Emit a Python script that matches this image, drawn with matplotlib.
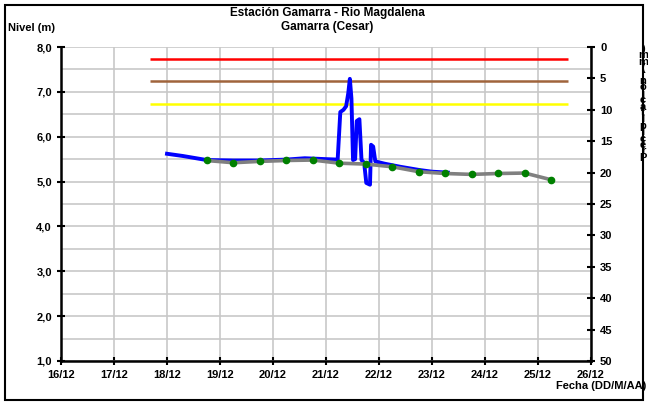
import numpy as np
import matplotlib
matplotlib.use('Agg')
from matplotlib import pyplot as plt
from matplotlib.patches import Rectangle

plt.rcParams['font.family'] = ['Liberation Sans', 'DejaVu Sans']
plt.rcParams['font.weight'] = 'bold'

# day of December (fractional) -> level (m)
dias_nivel = [18.00, 18.30, 18.75, 19.25, 19.75, 20.25, 20.60, 21.00, 21.22, 21.27,
              21.33, 21.38, 21.42, 21.45, 21.48, 21.51, 21.55, 21.58, 21.63, 21.67,
              21.72, 21.76, 21.83, 21.85, 21.89, 21.93, 22.10, 22.40, 22.75, 23.00, 23.30]
nivel = [5.62, 5.57, 5.48, 5.47, 5.47, 5.49, 5.52, 5.50, 5.49, 6.55,
         6.60, 6.68, 6.97, 7.29, 6.85, 5.48, 5.50, 6.35, 6.39, 5.48,
         5.42, 4.97, 4.93, 5.82, 5.78, 5.45, 5.40, 5.33, 5.26, 5.22, 5.20]

dias_filtro = [18.75, 19.25, 19.75, 20.25, 20.75, 21.25, 21.75, 22.25, 22.75, 23.25,
               23.75, 24.25, 24.75, 25.25]
nivel_filtro = [5.47, 5.42, 5.45, 5.47, 5.48, 5.41, 5.39, 5.33, 5.22, 5.18,
                5.16, 5.18, 5.19, 5.04]

# alert thresholds (m) and their extent
umbral_ini, umbral_fin = 17.68, 25.56
umbral_rojo = 7.73
umbral_naranja = 7.24
umbral_amarillo = 6.74

dias_ticks = list(range(16, 27))
etiquetas_x = ['%d/12' % d for d in dias_ticks]

fig = plt.figure(figsize=(6.48, 4.05), dpi=100)
ax = fig.add_axes([61 / 648, 1 - 361 / 405, 530 / 648, 314 / 405])

ax.set_xlim(16, 26)
ax.set_ylim(1, 8)
ax.set_xticks(dias_ticks)
ax.set_xticklabels(etiquetas_x)
ax.set_yticks(np.arange(1, 9, 1))
ax.set_yticklabels(['%d,0' % v for v in range(1, 9)])
ax.set_yticks(np.arange(1.5, 8, 1), minor=True)
ax.grid(True, which='both', color='#c8c8c8', lw=1.2)
ax.tick_params(which='minor', length=0)
ax.tick_params(which='major', direction='inout', length=6, width=1.5, labelsize=8)
ax.set_axisbelow(True)
for s in ['top', 'right']:
    ax.spines[s].set_visible(False)
for s in ['left', 'bottom']:
    ax.spines[s].set_linewidth(1.8)

ax.hlines(umbral_rojo, umbral_ini, umbral_fin, color='#ff0000', lw=1.8)
ax.hlines(umbral_naranja, umbral_ini, umbral_fin, color='#a0643c', lw=1.8)
ax.hlines(umbral_amarillo, umbral_ini, umbral_fin, color='#ffff00', lw=1.8)

ax.plot(dias_nivel, nivel, color='#0000ff', lw=2.8, zorder=3)
ax.plot(dias_filtro, nivel_filtro, color='#808080', lw=2.6, zorder=4)
ax.plot(dias_filtro, nivel_filtro, 'o', color='#008000', ms=4.5, zorder=5)

ax2 = ax.twinx()
ax2.set_ylim(50, 0)
ax2.set_yticks(range(0, 51, 5))
ax2.tick_params(direction='inout', length=6, width=1.5, labelsize=8)
for s in ['top', 'left', 'bottom']:
    ax2.spines[s].set_visible(False)
ax2.spines['right'].set_linewidth(1.8)

fig.text(327 / 648, 1 - 13 / 405, 'Estación Gamarra - Rio Magdalena', ha='center', va='center', fontsize=8.5)
fig.text(327 / 648, 1 - 27 / 405, 'Gamarra (Cesar)', ha='center', va='center', fontsize=8.5)
fig.text(8 / 648, 1 - 28 / 405, 'Nivel (m)', ha='left', va='center', fontsize=8)
fig.text(646 / 648, 1 - 386 / 405, 'Fecha (DD/M/AA)', ha='right', va='center', fontsize=8)

# squashed vertical precipitation label, as in the source
etiqueta = 'Precipitación (mm)'
fig.text(643 / 648, 1 - 44 / 405, '\n'.join(reversed(etiqueta)), ha='center', va='top',
         fontsize=8, linespacing=0.55, multialignment='center')

fig.patches.append(Rectangle((5 / 648, 5 / 405), 638 / 648, 395 / 405, transform=fig.transFigure,
                             fill=False, edgecolor='black', lw=1.5))

fig.savefig('out.png', dpi=100)
